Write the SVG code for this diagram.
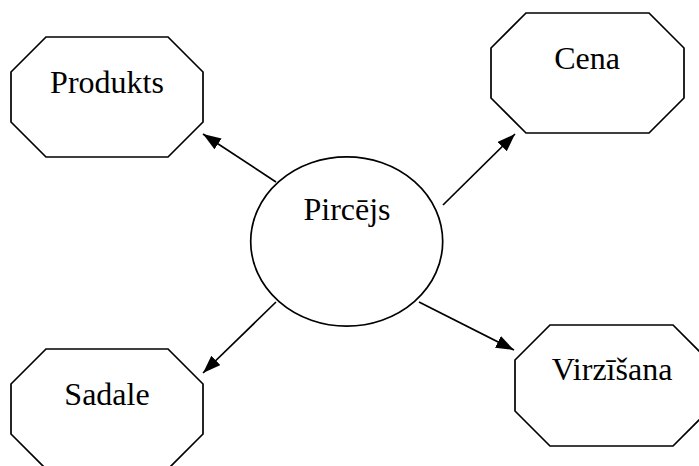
<svg xmlns="http://www.w3.org/2000/svg" width="699" height="466" viewBox="0 0 699 466">
  <style>
    .shape { fill: #ffffff; stroke: #000000; stroke-width: 1.7; }
    .label { font-family: "Liberation Serif", "Times New Roman", serif; font-size: 32px; fill: #000000; text-anchor: middle; }
    .conn { stroke: #000000; stroke-width: 1.7; fill: none; marker-end: url(#arrow); }
  </style>
  <defs>
    <marker id="arrow" markerUnits="userSpaceOnUse" markerWidth="19" markerHeight="14" refX="18" refY="6.5" orient="auto">
      <path d="M0,0 L18,6.5 L0,13 z" fill="#000000"/>
    </marker>
  </defs>
  <rect width="699" height="466" fill="#ffffff"/>
  <g id="connectors">
    <line class="conn" x1="276" y1="182" x2="203" y2="134"/>
    <line class="conn" x1="443" y1="205" x2="515" y2="134"/>
    <line class="conn" x1="276" y1="302" x2="203" y2="373"/>
    <line class="conn" x1="419" y1="302" x2="514" y2="350"/>
  </g>
  <g id="node-pircejs">
    <ellipse class="shape" cx="346.7" cy="241.5" rx="96" ry="84.7"/>
    <text class="label" x="347" y="220">Pircējs</text>
  </g>
  <g id="node-produkts">
    <polygon class="shape" points="46,37 168,37 203,72 203,122 168,157 46,157 11,122 11,72"/>
    <text class="label" x="107" y="93">Produkts</text>
  </g>
  <g id="node-cena">
    <polygon class="shape" points="526,13 649,13 684,48 684,98 649,133 526,133 491,98 491,48"/>
    <text class="label" x="587" y="69">Cena</text>
  </g>
  <g id="node-sadale">
    <polygon class="shape" points="46,349 168,349 203,384 203,434 168,469 46,469 11,434 11,384"/>
    <text class="label" x="107" y="405">Sadale</text>
  </g>
  <g id="node-virzisana">
    <polygon class="shape" points="550,325 673,325 708,360 708,411 673,446 550,446 515,411 515,360"/>
    <text class="label" x="612" y="380">Virzīšana</text>
  </g>
</svg>
